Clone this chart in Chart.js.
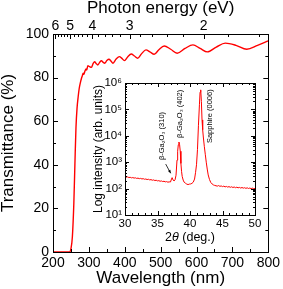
<!DOCTYPE html>
<html><head><meta charset="utf-8">
<script src="https://cdn.jsdelivr.net/npm/chart.js@4"></script>
<style>
html,body{margin:0;padding:0;background:#fff;overflow:hidden}
#wrap{position:relative;width:283px;height:289px}
canvas{position:absolute;left:0;top:0}
</style></head><body>
<div id="wrap"><canvas id="main" width="283" height="289"></canvas><canvas id="inset" width="283" height="289"></canvas></div>
<script>
// ---- Transmittance spectrum ----
const wavelength = [200,240,246,250,254,258,261,264,267,270,273,276,279,282,284,286,289,292,294,297,302,307,312,316,320,325,330,335,340,344,350,356,362,367,376,385,392,399,408,418,427,436,447,459,470,482,495,510,528,546,568,590,610,630,655,680,710,740,770,800];
const transmittance = [0,0,0,1.5,7,22,40,57,66,71,75,77.5,79.5,81,82,81.5,83,84,83.5,85.5,85,84.7,86.5,87.3,86.5,85.8,87,87.7,87,86.6,87.8,88.4,87.5,86.6,88.5,89.6,88.8,87.8,89.5,90.8,89.9,88.9,91,92.7,91.8,90.7,92.8,94.5,93,91.2,93.4,95,93.4,91.8,94,95.8,94.8,93,94.8,96.8];
const wavelengthTicks = [200,300,400,500,600,700,800];
const wavelengthMinor = [250,350,450,550,650,750];
const transTicks = [0,20,40,60,80,100];
const transMinor = [10,30,50,70,90];
const energyMajor = [6,5,4,3,2];
const energyMinor = [5.8,5.6,5.4,5.2,4.8,4.6,4.4,4.2,3.8,3.6,3.4,3.2,2.8,2.6,2.4,2.2,1.8,1.6];

// ---- XRD inset ----
const twoTheta = [30.0,30.2,30.4,30.6,30.8,31.0,31.2,31.4,31.6,31.8,32.0,32.2,32.4,32.6,32.8,33.0,33.2,33.4,33.6,33.8,34.0,34.2,34.4,34.6,34.8,35.0,35.2,35.4,35.6,35.8,36.0,36.2,36.4,36.6,36.8,37.0,37.15,37.25,37.4,37.55,37.7,37.85,38.0,38.1,38.2,38.3,38.4,38.5,38.6,38.7,38.8,38.95,39.1,39.3,39.5,39.7,39.9,40.1,40.3,40.5,40.7,40.85,41.0,41.15,41.3,41.45,41.55,41.65,41.75,41.85,41.95,42.05,42.2,42.35,42.5,42.65,42.8,43.0,43.2,43.4,43.6,43.8,44.0,44.2,44.4,44.6,44.8,45.0,45.2,45.4,45.6,45.8,46.0,46.2,46.4,46.6,46.8,47.0,47.2,47.4,47.6,47.8,48.0,48.2,48.4,48.6,48.8,49.0,49.2,49.4,49.6,49.8,50.0];
const intensity = [285,270,278,262,268,255,262,250,256,243,250,238,244,232,238,226,231,220,226,214,219,208,213,202,207,196,200,190,195,185,190,180,184,175,180,178,230,260,210,195,215,320,1200,2600,4600,5800,4600,2600,900,450,290,210,175,160,148,142,148,150,158,175,230,400,800,3000,25000,150000,450000,550000,200000,40000,17000,9000,4000,2000,1000,550,330,220,170,150,138,132,128,124,130,122,126,119,124,116,121,114,119,112,117,110,115,108,113,107,111,105,110,104,108,102,107,101,105,100,104,99,102];
const thetaTicks = [30,35,40,45,50];
const thetaMinor = [31,32,33,34,36,37,38,39,41,42,43,44,46,47,48,49];
const intensityTicks = [1e1,1e2,1e3,1e4,1e5,1e6];
const intensityLabels = ['10¹','10²','10³','10⁴','10⁵','10⁶'];
const peakLabels = ['β-Ga₂O₃ (310)','β-Ga₂O₃ (402)','Sapphire (0006)'];

const F = "'Liberation Sans', Arial, Helvetica, sans-serif";
const RED = '#ff0000';

function inwardTicks(chart, spec) {
  const {ctx, chartArea: a} = chart;
  ctx.save();
  ctx.strokeStyle = '#000';
  ctx.lineWidth = 1;
  ctx.beginPath();
  spec.forEach(s => {
    const sc = chart.scales[s.scale];
    s.values.forEach(v => {
      const p = Math.round(sc.getPixelForValue(v)) + 0.5;
      s.sides.forEach(side => {
        if (side === 'bottom') { ctx.moveTo(p, a.bottom); ctx.lineTo(p, a.bottom - s.len); }
        if (side === 'top') { ctx.moveTo(p, a.top); ctx.lineTo(p, a.top + s.len); }
        if (side === 'left') { ctx.moveTo(a.left, p); ctx.lineTo(a.left + s.len, p); }
        if (side === 'right') { ctx.moveTo(a.right, p); ctx.lineTo(a.right - s.len, p); }
      });
    });
  });
  ctx.stroke();
  ctx.strokeRect(Math.round(a.left) + 0.5, Math.round(a.top) + 0.5, Math.round(a.right - a.left), Math.round(a.bottom - a.top));
  ctx.restore();
}

const mainFrame = {
  id: 'mainFrame',
  afterDatasetsDraw(chart) {
    inwardTicks(chart, [
      {scale: 'x', values: wavelengthTicks, len: 5, sides: ['bottom']},
      {scale: 'x', values: wavelengthMinor, len: 3, sides: ['bottom']},
      {scale: 'x2', values: energyMajor.map(e => 1240 / e), len: 5, sides: ['top']},
      {scale: 'x2', values: energyMinor.map(e => 1240 / e), len: 3, sides: ['top']},
      {scale: 'y', values: transTicks, len: 5, sides: ['left', 'right']},
      {scale: 'y', values: transMinor, len: 3, sides: ['left', 'right']}
    ]);
  }
};

const noTicksGrid = {display: false, drawTicks: false, tickLength: 0};
const tickFont = {size: 14, family: F};

new Chart(document.getElementById('main'), {
  type: 'line',
  data: {
    datasets: [{
      data: wavelength.map((w, i) => ({x: w, y: transmittance[i]})),
      borderColor: RED, borderWidth: 1.4, pointRadius: 0, fill: false,
      cubicInterpolationMode: 'monotone'
    }]
  },
  options: {
    responsive: false, devicePixelRatio: 1, animation: false,
    layout: {padding: {left: 0, right: 13, top: 0, bottom: 0}},
    plugins: {legend: {display: false}, tooltip: {enabled: false}},
    scales: {
      x: {
        type: 'linear', position: 'bottom', min: 200, max: 800,
        afterBuildTicks: s => { s.ticks = wavelengthTicks.map(v => ({value: v})); },
        ticks: {font: tickFont, color: '#000', padding: 3, maxRotation: 0, autoSkip: false},
        grid: noTicksGrid, border: {display: false},
        title: {display: true, text: 'Wavelength (nm)', color: '#000', font: {size: 17, family: F, lineHeight: 1.1}, padding: {top: 0, bottom: 1}},
        afterFit: s => { s.height = 37; }
      },
      x2: {
        type: 'linear', position: 'top', min: 200, max: 800,
        afterBuildTicks: s => { s.ticks = energyMajor.map(e => ({value: 1240 / e})); },
        ticks: {font: tickFont, color: '#000', padding: -1, maxRotation: 0, autoSkip: false,
          callback: (v, i) => String(energyMajor[i])},
        grid: noTicksGrid, border: {display: false},
        title: {display: true, text: 'Photon energy (eV)', color: '#000', font: {size: 17, family: F, lineHeight: 1.0}, padding: {top: 0, bottom: 0}},
        afterFit: s => { s.height = 34; }
      },
      y: {
        type: 'linear', position: 'left', min: 0, max: 100,
        afterBuildTicks: s => { s.ticks = transTicks.map(v => ({value: v})); },
        ticks: {font: tickFont, color: '#000', padding: 4},
        grid: noTicksGrid, border: {display: false},
        title: {display: true, text: 'Transmittance (%)', color: '#000', font: {size: 17, family: F, lineHeight: 1.1}, padding: {top: -1, bottom: 0}},
        afterFit: s => { s.width = 53; }
      }
    }
  },
  plugins: [mainFrame]
});

const insetDeco = {
  id: 'insetDeco',
  beforeDraw(chart) {
    const {ctx, chartArea: a} = chart;
    ctx.save();
    ctx.fillStyle = '#fff';
    ctx.fillRect(a.left, a.top, a.right - a.left, a.bottom - a.top);
    ctx.restore();
  },
  afterDatasetsDraw(chart) {
    const minorLog = [];
    intensityTicks.slice(0, -1).forEach(d => { for (let k = 2; k <= 9; k++) minorLog.push(d * k); });
    inwardTicks(chart, [
      {scale: 'x', values: thetaTicks, len: 4, sides: ['bottom', 'top']},
      {scale: 'x', values: thetaMinor, len: 2, sides: ['bottom', 'top']},
      {scale: 'y', values: intensityTicks, len: 4, sides: ['left', 'right']},
      {scale: 'y', values: minorLog, len: 2, sides: ['left', 'right']}
    ]);
    const {ctx} = chart;
    const xs = chart.scales.x, ys = chart.scales.y;
    // peak labels (rotated)
    const anchors = [[35.65, 1200], [38.46, 8300], [43.1, 5300]];
    ctx.save();
    ctx.fillStyle = '#000';
    ctx.font = '7.5px ' + F;
    ctx.textAlign = 'left';
    ctx.textBaseline = 'middle';
    peakLabels.forEach((t, i) => {
      ctx.save();
      ctx.translate(xs.getPixelForValue(anchors[i][0]), ys.getPixelForValue(anchors[i][1]));
      ctx.rotate(-Math.PI / 2);
      ctx.fillText(t, 0, 0);
      ctx.restore();
    });
    // arrow to (310) peak
    const x0 = xs.getPixelForValue(36.26), y0 = ys.getPixelForValue(850);
    const x1 = xs.getPixelForValue(37.03), y1 = ys.getPixelForValue(380);
    ctx.strokeStyle = '#000'; ctx.lineWidth = 0.8;
    ctx.beginPath(); ctx.moveTo(x0, y0); ctx.lineTo(x1, y1); ctx.stroke();
    const ang = Math.atan2(y1 - y0, x1 - x0);
    ctx.beginPath();
    ctx.moveTo(x1, y1);
    ctx.lineTo(x1 - 3.5 * Math.cos(ang - 0.4), y1 - 3.5 * Math.sin(ang - 0.4));
    ctx.lineTo(x1 - 3.5 * Math.cos(ang + 0.4), y1 - 3.5 * Math.sin(ang + 0.4));
    ctx.closePath(); ctx.fill();
    // x title with italic theta
    const cx = (xs.left + xs.right) / 2, ty = 238;
    ctx.textBaseline = 'middle';
    const p1 = '2', p2 = 'θ', p3 = ' (deg.)';
    ctx.font = '12.5px ' + F; const w1 = ctx.measureText(p1).width, w3 = ctx.measureText(p3).width;
    ctx.font = 'italic 12.5px ' + F; const w2 = ctx.measureText(p2).width;
    let sx = cx - (w1 + w2 + w3) / 2;
    ctx.font = '12.5px ' + F; ctx.fillText(p1, sx, ty); sx += w1;
    ctx.font = 'italic 12.5px ' + F; ctx.fillText(p2, sx, ty); sx += w2;
    ctx.font = '12.5px ' + F; ctx.fillText(p3, sx, ty);
    ctx.restore();
  }
};

const insetFont = {size: 11.5, family: F};
new Chart(document.getElementById('inset'), {
  type: 'line',
  data: {
    datasets: [{
      data: twoTheta.map((t, i) => ({x: t, y: intensity[i]})),
      borderColor: RED, borderWidth: 1, pointRadius: 0, fill: false, tension: 0
    }]
  },
  options: {
    responsive: false, devicePixelRatio: 1, animation: false,
    layout: {padding: {left: 0, right: 28, top: 83, bottom: 0}},
    plugins: {legend: {display: false}, tooltip: {enabled: false}},
    scales: {
      x: {
        type: 'linear', position: 'bottom', min: 30, max: 50,
        afterBuildTicks: s => { s.ticks = thetaTicks.map(v => ({value: v})); },
        ticks: {font: insetFont, color: '#000', padding: 2, maxRotation: 0, autoSkip: false},
        grid: noTicksGrid, border: {display: false},
        afterFit: s => { s.height = 74; }
      },
      y: {
        type: 'logarithmic', position: 'left', min: 10, max: 1e6,
        afterBuildTicks: s => { s.ticks = intensityTicks.map(v => ({value: v})); },
        ticks: {font: insetFont, color: '#000', padding: 3, autoSkip: false,
          callback: (v, i) => intensityLabels[i]},
        grid: noTicksGrid, border: {display: false},
        title: {display: true, text: 'Log intensity (arb. units)', color: '#000', font: {size: 12, family: F, lineHeight: 1.2}, padding: {top: 91, bottom: 0}},
        afterFit: s => { s.width = 125; }
      }
    }
  },
  plugins: [insetDeco]
});
</script>
</body></html>
